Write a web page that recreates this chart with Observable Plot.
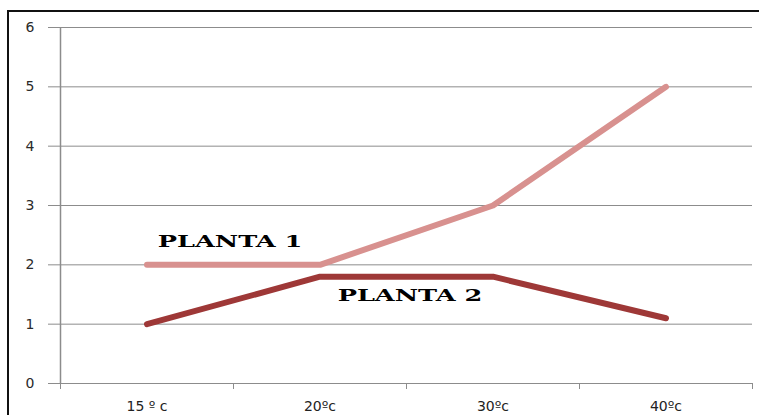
<!DOCTYPE html>
<html>
<head>
<meta charset="utf-8">
<script src="https://cdn.jsdelivr.net/npm/d3@7"></script>
<script src="https://cdn.jsdelivr.net/npm/@observablehq/plot@0.6"></script>
<style>
  html, body { margin: 0; padding: 0; background: #fff; }
  #wrap { position: relative; width: 759px; height: 415px; overflow: hidden; }
  #wrap::before { content: ""; position: absolute; left: 7px; top: 10px; right: -10px; bottom: -10px;
    border-left: 2px solid #111; border-top: 2px solid #111; pointer-events: none; }
  #wrap svg { display: block; }
</style>
</head>
<body>
<div id="wrap"></div>
<script>
const categories = ["15 º c", "20ºc", "30ºc", "40ºc"];
const planta1 = [2, 2, 3, 5];
const planta2 = [1, 1.8, 1.8, 1.1];
const yTicks = [0, 1, 2, 3, 4, 5, 6];
const bandEdges = [0, 1, 2, 3, 4];
const seriesLabels = [
  {name: "PLANTA 1", x: 0.98, y: 2.38},
  {name: "PLANTA 2", x: 2.02, y: 1.47}
];

const rows1 = categories.map((c, i) => ({i: i + 0.5, v: planta1[i]}));
const rows2 = categories.map((c, i) => ({i: i + 0.5, v: planta2[i]}));
const catRows = categories.map((c, i) => ({i: i + 0.5, c}));

const chart = Plot.plot({
  width: 759,
  height: 415,
  marginLeft: 60,
  marginRight: 7,
  marginTop: 27,
  marginBottom: 32,
  style: {fontFamily: "'DejaVu Sans', Verdana, sans-serif", background: "transparent"},
  x: {domain: [0, 4], axis: null},
  y: {domain: [0, 6], axis: null},
  marks: [
    Plot.gridY(yTicks, {stroke: "#8c8c8c", strokeOpacity: 1, strokeWidth: 1}),
    Plot.axisY(yTicks, {tickSize: 12, tickPadding: 14, stroke: "#8c8c8c", fill: "#2a2a2a", fontSize: 14, label: null, tickFormat: d3.format("d")}),
    Plot.ruleX([0], {stroke: "#8c8c8c", strokeWidth: 1.5}),
    Plot.axisX(bandEdges, {tickSize: 6, tickFormat: () => "", stroke: "#8c8c8c", label: null}),
    Plot.text(catRows, {x: "i", y: () => 0, text: "c", dy: 23, fontSize: 14, fill: "#222"}),
    Plot.line(rows1, {x: "i", y: "v", stroke: "#d8918f", strokeWidth: 6, strokeLinecap: "round", strokeLinejoin: "round"}),
    Plot.line(rows2, {x: "i", y: "v", stroke: "#9e3837", strokeWidth: 6, strokeLinecap: "round", strokeLinejoin: "round"}),
    Plot.text(seriesLabels, {x: "x", y: "y", text: "name", fontSize: 16, fontWeight: "bold", fill: "#000",
      fontFamily: "'DejaVu Serif', 'Liberation Serif', serif"})
  ]
});

d3.select(chart).selectAll("text").filter(function() { return /^PLANTA/.test(this.textContent); })
  .each(function() {
    const el = d3.select(this);
    const t = el.attr("transform");
    if (t) {
      el.attr("transform", t + " scale(1.6,1)");
    } else {
      const x = +el.attr("x") || 0, y = +el.attr("y") || 0;
      el.attr("x", null).attr("y", null).attr("transform", `translate(${x},${y}) scale(1.6,1)`);
    }
  });

document.getElementById("wrap").appendChild(chart);
</script>
</body>
</html>
